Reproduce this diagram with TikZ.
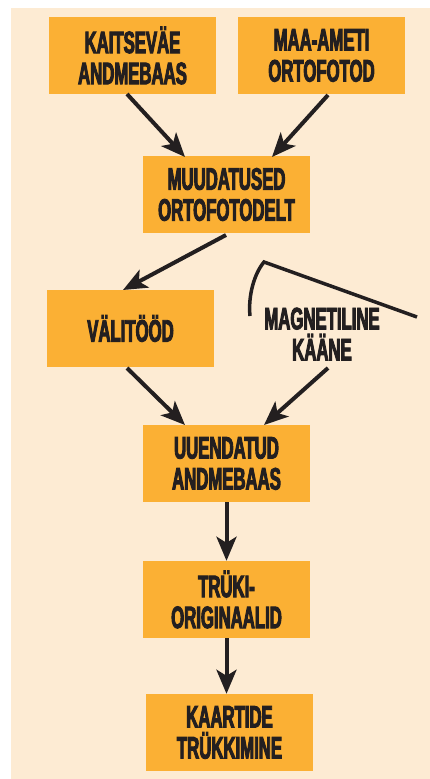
\documentclass[tikz,border=0pt]{standalone}
\usepackage{fontspec}
\setmainfont{Liberation Sans}[BoldFeatures={FakeStretch=0.54,FakeBold=3}]
\usetikzlibrary{arrows.meta}
\definecolor{bgc}{RGB}{253,235,211}
\definecolor{boxc}{RGB}{251,176,52}
\definecolor{ink}{RGB}{35,31,32}
\begin{document}
\begin{tikzpicture}[x=1pt,y=-1pt,
  box/.style={fill=boxc,draw=none,minimum width=167pt,minimum height=77pt,inner sep=0pt,
    align=center,text=ink,font=\fontsize{31}{31}\selectfont\bfseries},
  lbl/.style={align=center,text=ink,font=\fontsize{31}{31}\selectfont\bfseries},
  arr/.style={draw=ink,line width=4pt,-{Stealth[length=24pt,width=20pt,inset=6pt]}},
  tape/.style={draw=ink,line width=3.5pt}]
\useasboundingbox (0,0) rectangle (430,779);
\fill[bgc] (11,8) rectangle (430,779);
\node[box] (kait) at (132.5,55.5) {KAITSEVÄE\\ANDMEBAAS};
\node[box] (maa) at (321.5,55.5) {MAA-AMETI\\ORTOFOTOD};
\node[box] (muud) at (226.5,194.5) {MUUDATUSED\\ORTOFOTODELT};
\node[box] (vali) at (130.5,328.5) {VÄLITÖÖD};
\node[box] (uuen) at (226.5,463.5) {UUENDATUD\\ANDMEBAAS};
\node[box] (truk) at (226.5,599.5) {TRÜKI-\\ORIGINAALID};
\node[box] (kaar) at (229.5,732.5) {KAARTIDE\\TRÜKKIMINE};
\node[lbl] (magn) at (322,334) {MAGNETILINE\\KÄÄNE};
\coordinate (t1) at (250,316);
\coordinate (t2) at (264,262);
\coordinate (t3) at (417,317);
\draw[tape] (t1) .. controls (248,296) and (254,274) .. (t2) -- (t3);
\coordinate (a1) at (127,94);
\coordinate (a2) at (328,95);
\coordinate (a3) at (226,235);
\coordinate (a4) at (127,368);
\coordinate (a5) at (328,368);
\draw[arr] (a1) -- (185,157);
\draw[arr] (a2) -- (272,157);
\draw[arr] (a3) -- (123,290);
\draw[arr] (a4) -- (185,425);
\draw[arr] (a5) -- (264,425);
\draw[arr] (uuen.south) -- (truk.north);
\draw[arr] (truk.south) -- ([xshift=-3pt]kaar.north);
\end{tikzpicture}
\end{document}
